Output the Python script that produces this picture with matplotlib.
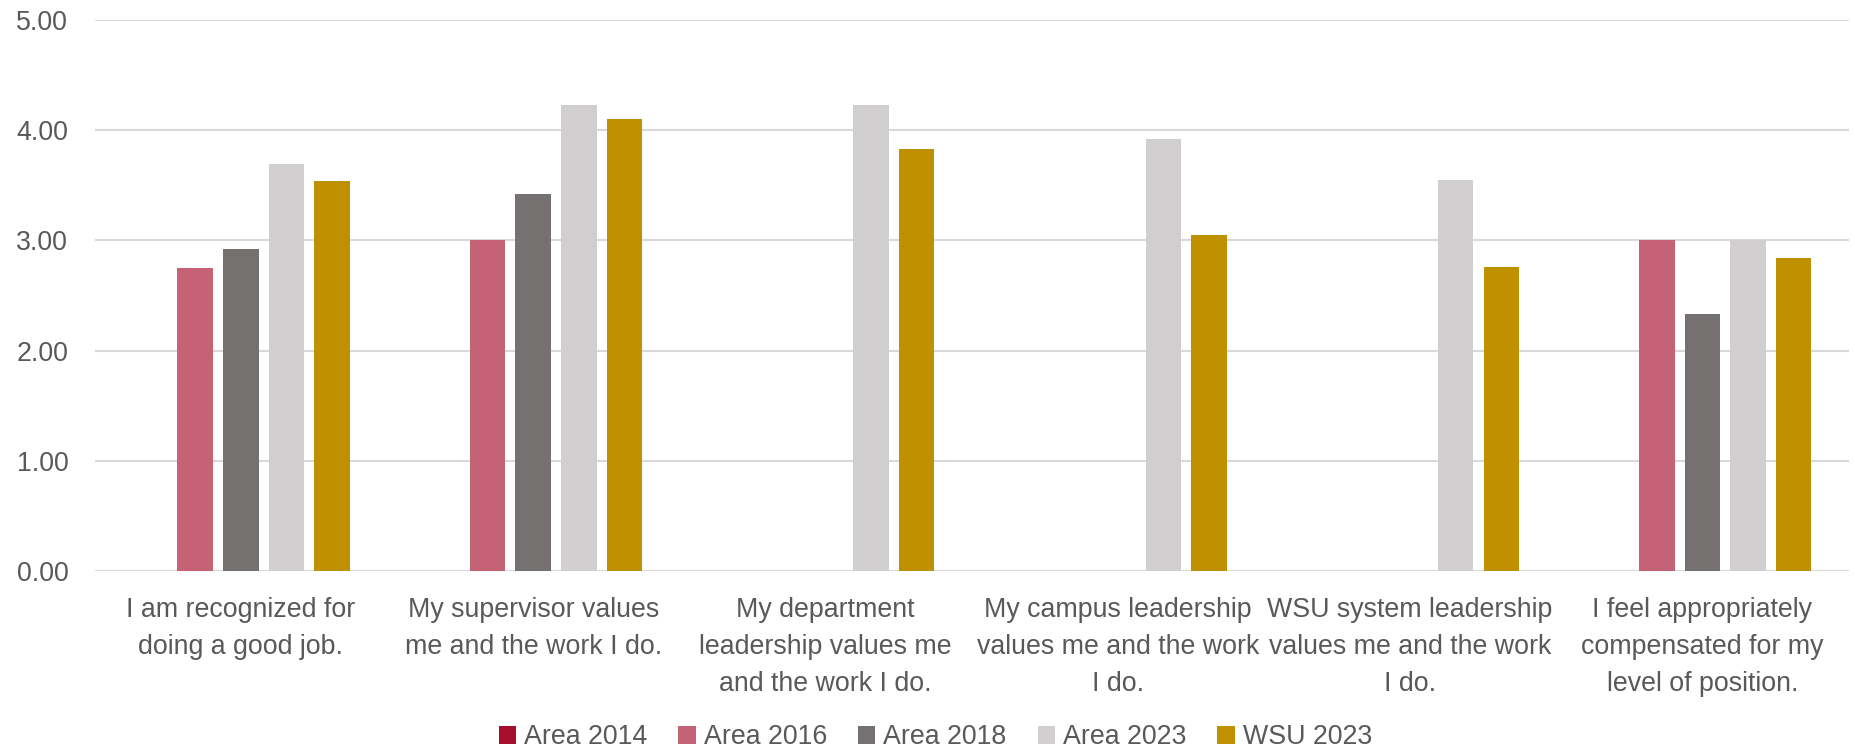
import matplotlib.pyplot as plt
import numpy as np

# Valeurs
questions = [
    "I am recognized for\ndoing a good job.",
    "My supervisor values\nme and the work I do.",
    "My department\nleadership values me\nand the work I do.",
    "My campus leadership\nvalues me and the work\nI do.",
    "WSU system leadership\nvalues me and the work\nI do.",
    "I feel appropriately\ncompensated for my\nlevel of position.",
]
series = ["Area 2014", "Area 2016", "Area 2018", "Area 2023", "WSU 2023"]
area_2014 = [np.nan, np.nan, np.nan, np.nan, np.nan, np.nan]
area_2016 = [2.75, 3.00, np.nan, np.nan, np.nan, 3.00]
area_2018 = [2.92, 3.42, np.nan, np.nan, np.nan, 2.33]
area_2023 = [3.69, 4.23, 4.23, 3.92, 3.55, 3.00]
wsu_2023 = [3.54, 4.10, 3.83, 3.05, 2.76, 2.84]
colors = ["#A50F2D", "#C66275", "#767171", "#D0CECE", "#BF9000"]

values = [area_2014, area_2016, area_2018, area_2023, wsu_2023]

plt.rcParams['font.family'] = ['Liberation Sans', 'DejaVu Sans']

fig = plt.figure(figsize=(18.56, 7.5), dpi=100)
ax = fig.add_axes([0.051, 0.239, 0.945, 0.734])

x = np.arange(len(questions))
slot = 0.156
for i in range(len(series)):
    ax.bar(x + (i - 2) * slot, values[i], width=slot * 0.78, color=colors[i],
           label=series[i], zorder=3)

ax.set_ylim(0, 5)
ax.set_xlim(-0.5, len(questions) - 0.5)
ax.set_yticks([0, 1, 2, 3, 4, 5])
ax.set_yticklabels([f"{v:.2f}" for v in [0, 1, 2, 3, 4, 5]])
ax.set_xticks(x)
ax.set_xticklabels(questions, linespacing=1.55)
ax.tick_params(axis='both', length=0, labelsize=19.3, colors="#595959")
ax.tick_params(axis='y', pad=19)
ax.tick_params(axis='x', pad=19)
ax.yaxis.grid(True, color="#D9D9D9", linewidth=1.5, zorder=0)
for s in ax.spines.values():
    s.set_visible(False)

fig.legend(loc='center', bbox_to_anchor=(0.504, 0.017), ncol=5, frameon=False,
           fontsize=19.3, labelcolor="#595959", handlelength=0.65, handleheight=0.65,
           handletextpad=0.3, columnspacing=1.15)

fig.savefig("out.png", dpi=100)
